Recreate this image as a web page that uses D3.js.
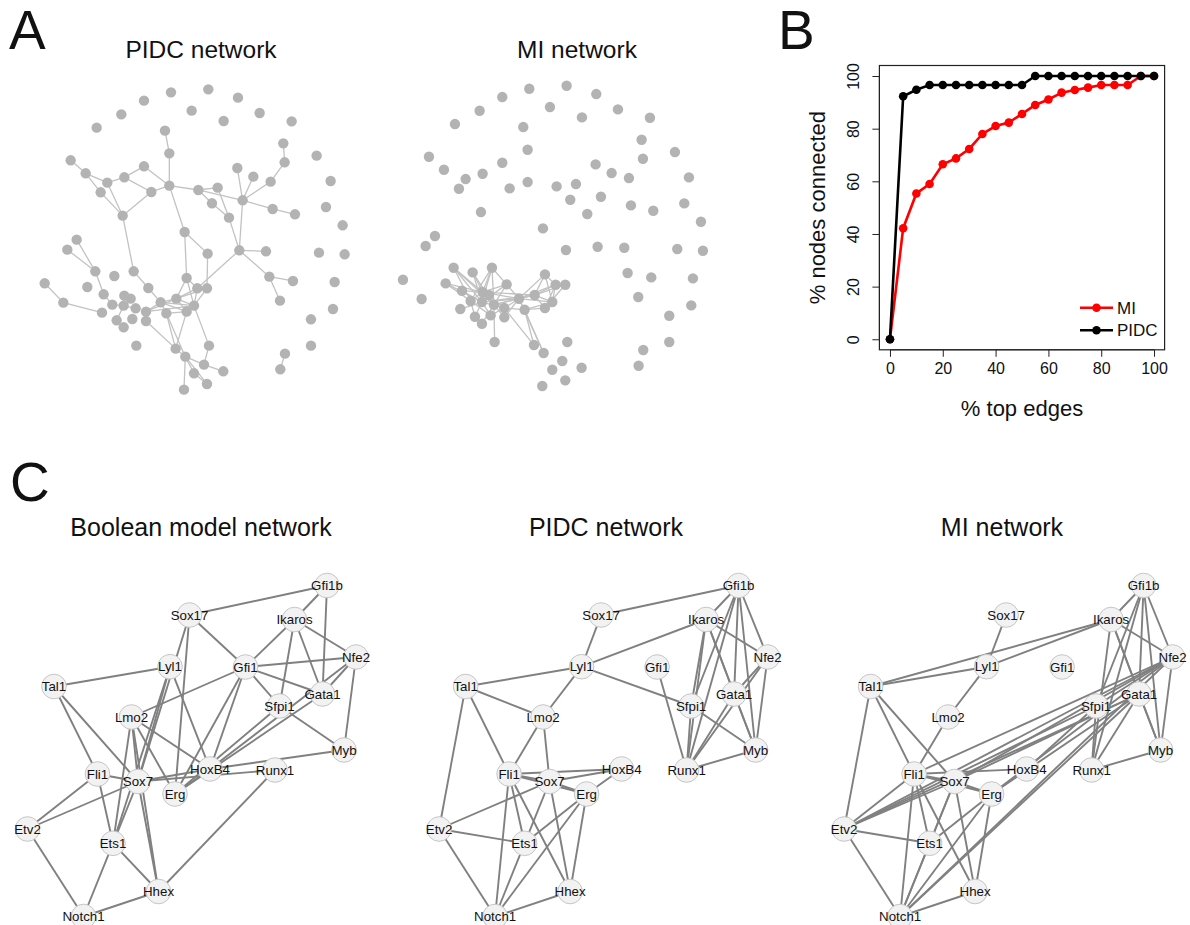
<!DOCTYPE html>
<html>
<head>
<meta charset="utf-8">
<title>Networks</title>
<script src="https://cdnjs.cloudflare.com/ajax/libs/d3/7.8.5/d3.min.js"></script>
<style>
  body { margin: 0; background: #fff; }
  text { font-family: "Liberation Sans", Arial, Helvetica, sans-serif; fill: #111; }
</style>
</head>
<body>
<script>

// ---- panel A: shared layout of the two big networks (layout units 0..1000)
var layoutNodes = [
  [535,58],[423,67],[624,83],[342,92],[485,122],[274,133],[689,129],[581,153],[785,154],[200,173],
  [405,182],[760,220],[418,250],[860,257],[122,271],[764,277],[622,294],[342,289],[670,320],[167,310],
  [283,322],[232,338],[722,335],[902,333],[418,347],[212,367],[364,366],[505,360],[563,353],[638,391],
  [546,400],[728,417],[795,433],[888,411],[278,437],[597,443],[938,466],[464,486],[140,509],[112,539],
  [628,541],[708,544],[533,551],[867,548],[944,553],[196,604],[311,604],[253,618],[718,620],[789,633],
  [914,636],[44,640],[172,651],[470,624],[355,654],[502,655],[531,655],[221,673],[283,677],[302,686],
  [439,686],[392,697],[100,698],[750,692],[247,704],[281,707],[317,715],[492,707],[348,725],[409,730],
  [470,725],[216,728],[909,717],[260,751],[307,747],[348,753],[281,772],[843,748],[319,827],[537,827],
  [843,827],[437,836],[466,860],[522,884],[580,904],[492,910],[751,898],[531,942],[462,959],[765,851]
];

var pidcEdges = [
  [10,12],[12,24],[14,19],[19,21],[19,25],[21,20],[20,17],[20,26],[17,24],[26,24],[24,27],[26,34],
  [21,34],[25,34],[24,37],[37,42],[37,53],[27,28],[27,29],[27,30],[28,35],[30,35],[35,40],[29,16],
  [29,18],[29,22],[22,15],[15,11],[29,31],[31,32],[29,40],[40,41],[40,48],[48,49],[48,63],[40,55],
  [42,56],[34,46],[46,54],[54,61],[53,60],[53,55],[53,67],[60,61],[61,67],[61,70],[60,67],[60,55],
  [60,56],[60,70],[55,67],[55,56],[56,67],[69,70],[69,61],[68,60],[68,61],[68,67],[69,81],[69,82],
  [70,81],[67,79],[75,81],[81,82],[82,83],[82,85],[82,88],[82,87],[79,83],[83,84],[85,87],[38,45],
  [39,45],[45,57],[57,64],[58,59],[58,65],[59,65],[64,65],[65,73],[65,66],[51,62],[62,71],[89,86]
];

var miEdges = [
  [45,58],[45,65],[45,64],[45,66],[47,58],[47,65],[47,66],[46,58],[46,65],[46,66],[46,54],[46,64],
  [52,58],[52,65],[52,64],[57,58],[57,65],[54,58],[54,65],[54,66],[54,61],[58,61],[58,60],[58,66],
  [58,64],[58,68],[65,61],[65,60],[65,68],[65,74],[66,61],[66,60],[66,68],[66,75],[64,73],[64,74],
  [71,65],[73,65],[74,68],[76,66],[66,78],[68,61],[61,60],[61,69],[60,53],[60,55],[60,56],[60,67],
  [60,70],[61,55],[61,67],[61,53],[69,67],[69,70],[53,67],[53,55],[55,67],[55,70],[56,70],[67,70],
  [68,81],[69,81],[69,82],[61,82],[75,61],[68,69],[58,59]
];

// ---- panel B: % nodes connected vs % top edges
var topEdges      = [0,5,10,15,20,25,30,35,40,45,50,55,60,65,70,75,80,85,90,95,100];
var miConnected   = [0,42.2,55.4,59,66.5,68.7,72.3,78,81,82.3,85.6,89,91.1,93.7,94.7,95.6,96.6,96.6,96.6,100,100];
var pidcConnected = [0,92.3,94.8,96.6,96.6,96.6,96.6,96.6,96.6,96.6,96.6,100,100,100,100,100,100,100,100,100,100];
var xTicks = [0,20,40,60,80,100];
var yTicks = [0,20,40,60,80,100];

// ---- panel C: gene networks (layout in px of the first panel)
var genes = ["Gfi1b","Sox17","Ikaros","Nfe2","Lyl1","Gfi1","Tal1","Gata1","Sfpi1","Lmo2",
             "Myb","HoxB4","Runx1","Fli1","Sox7","Erg","Etv2","Ets1","Hhex","Notch1"];
var geneX = [327,189.5,294.5,356,170,245.5,54,322.5,279.5,131.5,344,210,275,97.5,138,175,27.5,113,158.5,83.5];
var geneY = [585.5,615,619.5,657,666.7,667,686.5,694,706,717,750,769,770,774,781.5,794,829,843.3,891.5,916.5];

var booleanEdges = [
  ["Gfi1b","Sox17"],["Gfi1b","Ikaros"],["Gfi1b","Gata1"],["Sox17","Gfi1"],["Sox17","Sox7"],["Sox17","Erg"],
  ["Ikaros","Gfi1"],["Ikaros","Sfpi1"],["Ikaros","Gata1"],["Ikaros","Nfe2"],["Gfi1","Nfe2"],["Gfi1","Gata1"],
  ["Gfi1","Sfpi1"],["Gfi1","Lmo2"],["Gfi1","HoxB4"],["Gfi1","Erg"],["Lyl1","Tal1"],["Lyl1","HoxB4"],
  ["Lyl1","Sox7"],["Lyl1","Ets1"],["Tal1","Fli1"],["Tal1","Sox7"],["Lmo2","HoxB4"],["Lmo2","Erg"],
  ["Lmo2","Sox7"],["Lmo2","Ets1"],["Lmo2","Hhex"],["Nfe2","HoxB4"],["Nfe2","Myb"],["Nfe2","Gata1"],
  ["Gata1","Erg"],["Sfpi1","Myb"],["Sfpi1","Erg"],["HoxB4","Myb"],["Sox7","Runx1"],["Sox7","HoxB4"],
  ["Runx1","Hhex"],["Fli1","Sox7"],["Fli1","Etv2"],["Fli1","Ets1"],["Sox7","Etv2"],["Sox7","Ets1"],
  ["Sox7","Hhex"],["Etv2","Notch1"],["Ets1","Notch1"],["Ets1","Hhex"],["Hhex","Notch1"],["Erg","HoxB4"]
];

var pidcGeneEdges = [
  ["Gfi1b","Sox17"],["Gfi1b","Ikaros"],["Gfi1b","Nfe2"],["Gfi1b","Gata1"],["Gfi1b","Myb"],["Gfi1b","Runx1"],
  ["Gfi1b","Sfpi1"],["Sox17","Lyl1"],["Ikaros","Lyl1"],["Ikaros","Nfe2"],["Ikaros","Gata1"],["Ikaros","Myb"],
  ["Ikaros","Runx1"],["Ikaros","Sfpi1"],["Nfe2","Gata1"],["Nfe2","Myb"],["Nfe2","Runx1"],["Lyl1","Tal1"],
  ["Lyl1","Lmo2"],["Lyl1","Sfpi1"],["Gfi1","Runx1"],["Gata1","Myb"],["Gata1","Runx1"],["Sfpi1","Myb"],
  ["Sfpi1","Runx1"],["Myb","Runx1"],["Tal1","Lmo2"],["Tal1","Fli1"],["Tal1","Etv2"],["Lmo2","Fli1"],
  ["Lmo2","Sox7"],["Fli1","HoxB4"],["Fli1","Sox7"],["Fli1","Erg"],["Fli1","Ets1"],["Fli1","Hhex"],
  ["Fli1","Notch1"],["Sox7","HoxB4"],["Sox7","Etv2"],["Sox7","Ets1"],["Sox7","Hhex"],["Erg","HoxB4"],
  ["Erg","Ets1"],["Erg","Notch1"],["Erg","Hhex"],["Etv2","Ets1"],["Etv2","Notch1"],["Ets1","Notch1"],
  ["Hhex","Notch1"],["Sox7","Erg"]
];

var miGeneEdges = [
  ["Sox17","Lyl1"],["Ikaros","Tal1"],["Ikaros","Lyl1"],["Tal1","Lyl1"],["Lyl1","Lmo2"],["Lmo2","Fli1"],
  ["Gfi1b","Ikaros"],["Gfi1b","Nfe2"],["Gfi1b","Gata1"],["Gfi1b","Myb"],["Gfi1b","Runx1"],["Gfi1b","Sfpi1"],
  ["Ikaros","Nfe2"],["Ikaros","Gata1"],["Ikaros","Runx1"],["Ikaros","Myb"],["Nfe2","Myb"],["Nfe2","Fli1"],
  ["Nfe2","Etv2"],["Nfe2","Sox7"],["Nfe2","Notch1"],["Nfe2","Erg"],["Nfe2","Sfpi1"],["Gata1","Sox7"],
  ["Gata1","Etv2"],["Gata1","Notch1"],["Gata1","Runx1"],["Gata1","Myb"],["Gata1","Erg"],["Sfpi1","Etv2"],
  ["Sfpi1","HoxB4"],["Sfpi1","Runx1"],["HoxB4","Fli1"],["HoxB4","Erg"],["Runx1","Myb"],["Tal1","Fli1"],
  ["Tal1","Etv2"],["Tal1","Sox7"],["Fli1","Sox7"],["Fli1","Erg"],["Fli1","Etv2"],["Fli1","Ets1"],
  ["Fli1","Hhex"],["Fli1","Notch1"],["Sox7","Etv2"],["Sox7","Erg"],["Sox7","Ets1"],["Sox7","Hhex"],
  ["Sox7","Notch1"],["Erg","Ets1"],["Erg","Notch1"],["Erg","Hhex"],["Etv2","Ets1"],["Etv2","Notch1"],
  ["Ets1","Notch1"],["Hhex","Notch1"]
];

var width = 1190, height = 925;

var svg = d3.select("body")
  .append("svg")
  .attr("width", width)
  .attr("height", height);

// panel letters
svg.append("text").attr("x", 9).attr("y", 49).attr("font-size", 55).text("A");
svg.append("text").attr("x", 778).attr("y", 49).attr("font-size", 55).text("B");
svg.append("text").attr("x", 10).attr("y", 501).attr("font-size", 55).text("C");

// ---------- panel A
function drawBigNetwork(title, edges, x0, y0, titleX) {
  var x = d3.scaleLinear().domain([0, 1000]).range([x0, x0 + 333.3]);
  var y = d3.scaleLinear().domain([0, 1000]).range([y0, y0 + 333.3]);
  var g = svg.append("g");

  g.append("text")
    .attr("x", titleX).attr("y", 58)
    .attr("text-anchor", "middle")
    .attr("font-size", 24.5)
    .text(title);

  g.selectAll("line")
    .data(edges)
    .enter()
    .append("line")
    .attr("x1", function(d) { return x(layoutNodes[d[0]][0]); })
    .attr("y1", function(d) { return y(layoutNodes[d[0]][1]); })
    .attr("x2", function(d) { return x(layoutNodes[d[1]][0]); })
    .attr("y2", function(d) { return y(layoutNodes[d[1]][1]); })
    .attr("stroke", "#c2c2c2")
    .attr("stroke-width", 1.3);

  g.selectAll("circle")
    .data(layoutNodes)
    .enter()
    .append("circle")
    .attr("cx", function(d) { return x(d[0]); })
    .attr("cy", function(d) { return y(d[1]); })
    .attr("r", 5.2)
    .attr("fill", "#b3b3b3");
}

drawBigNetwork("PIDC network", pidcEdges, 30, 70, 201);
drawBigNetwork("MI network", miEdges, 388.3, 66.4, 577);

// ---------- panel B
var bx = d3.scaleLinear().domain([-4, 104]).range([879.4, 1164.6]);
var by = d3.scaleLinear().domain([-4, 104]).range([349.8, 65.5]);
var gb = svg.append("g");

gb.append("rect")
  .attr("x", bx(-4)).attr("y", by(104))
  .attr("width", bx(104) - bx(-4)).attr("height", by(-4) - by(104))
  .attr("fill", "none").attr("stroke", "#222").attr("stroke-width", 1.2);

var xAxis = d3.axisBottom(bx).tickValues(xTicks).tickSize(7).tickPadding(6).tickSizeOuter(0);
var yAxis = d3.axisLeft(by).tickValues(yTicks).tickSize(7).tickSizeOuter(0);

var gx = gb.append("g").attr("transform", "translate(0," + by(-4) + ")").call(xAxis);
gx.select(".domain").attr("d", "M" + bx(0) + ",0H" + bx(100)).attr("stroke", "#222");
gx.selectAll("line").attr("stroke", "#222");
gx.selectAll("text").attr("font-size", 16).attr("font-family", "Liberation Sans, Arial, sans-serif").attr("fill", "#111");

var gy = gb.append("g").attr("transform", "translate(" + bx(-4) + ",0)").call(yAxis);
gy.select(".domain").attr("d", "M0," + by(0) + "V" + by(100)).attr("stroke", "#222");
gy.selectAll("line").attr("stroke", "#222");
gy.selectAll("text")
  .attr("font-size", 16)
  .attr("font-family", "Liberation Sans, Arial, sans-serif")
  .attr("fill", "#111")
  .attr("x", null).attr("dy", null)
  .attr("text-anchor", "middle")
  .attr("transform", "translate(-20,0) rotate(-90)");

gb.append("text")
  .attr("x", bx(50)).attr("y", 416)
  .attr("text-anchor", "middle").attr("font-size", 22)
  .text("% top edges");

gb.append("text")
  .attr("transform", "translate(825," + by(50) + ") rotate(-90)")
  .attr("text-anchor", "middle").attr("font-size", 22)
  .text("% nodes connected");

var series = [
  { name: "MI", values: miConnected, color: "#ff0000" },
  { name: "PIDC", values: pidcConnected, color: "#000000" }
];

var line = d3.line()
  .x(function(d, i) { return bx(topEdges[i]); })
  .y(function(d) { return by(d); });

series.forEach(function(s) {
  gb.append("path")
    .datum(s.values)
    .attr("d", line)
    .attr("fill", "none")
    .attr("stroke", s.color)
    .attr("stroke-width", 2.6);

  gb.append("g").selectAll("circle")
    .data(s.values)
    .enter()
    .append("circle")
    .attr("cx", function(d, i) { return bx(topEdges[i]); })
    .attr("cy", function(d) { return by(d); })
    .attr("r", 4.3)
    .attr("fill", s.color);
});

// legend
series.forEach(function(s, i) {
  var ly = 307.7 + i * 22.5;
  gb.append("line")
    .attr("x1", 1080).attr("x2", 1113).attr("y1", ly).attr("y2", ly)
    .attr("stroke", s.color).attr("stroke-width", 2.6);
  gb.append("circle").attr("cx", 1096.5).attr("cy", ly).attr("r", 4.3).attr("fill", s.color);
  gb.append("text").attr("x", 1117).attr("y", ly + 6).attr("font-size", 17).text(s.name);
});

// ---------- panel C
function drawGeneNetwork(title, edges, dx, titleX) {
  var x = d3.scaleLinear().domain([0, 400]).range([dx, dx + 400]);
  var y = d3.scaleLinear().domain([0, 400]).range([0, 400]);
  var g = svg.append("g");
  var idx = {};
  genes.forEach(function(n, i) { idx[n] = i; });

  g.append("text")
    .attr("x", titleX).attr("y", 536)
    .attr("text-anchor", "middle").attr("font-size", 25)
    .text(title);

  g.selectAll("line")
    .data(edges)
    .enter()
    .append("line")
    .attr("x1", function(d) { return x(geneX[idx[d[0]]]); })
    .attr("y1", function(d) { return y(geneY[idx[d[0]]]); })
    .attr("x2", function(d) { return x(geneX[idx[d[1]]]); })
    .attr("y2", function(d) { return y(geneY[idx[d[1]]]); })
    .attr("stroke", "#808080")
    .attr("stroke-width", 1.9);

  var node = g.selectAll("g.node")
    .data(genes)
    .enter()
    .append("g")
    .attr("class", "node")
    .attr("transform", function(d, i) { return "translate(" + x(geneX[i]) + "," + y(geneY[i]) + ")"; });

  node.append("circle")
    .attr("r", 12.3)
    .attr("fill", "#f2f2f2")
    .attr("stroke", "#c6c6c6")
    .attr("stroke-width", 1);

  node.append("text")
    .attr("text-anchor", "middle")
    .attr("dy", "0.36em")
    .attr("font-size", 13.3)
    .text(function(d) { return d; });
}

drawGeneNetwork("Boolean model network", booleanEdges, 0, 201);
drawGeneNetwork("PIDC network", pidcGeneEdges, 411.6, 606);
drawGeneNetwork("MI network", miGeneEdges, 816.6, 1002);

</script>
</body>
</html>
